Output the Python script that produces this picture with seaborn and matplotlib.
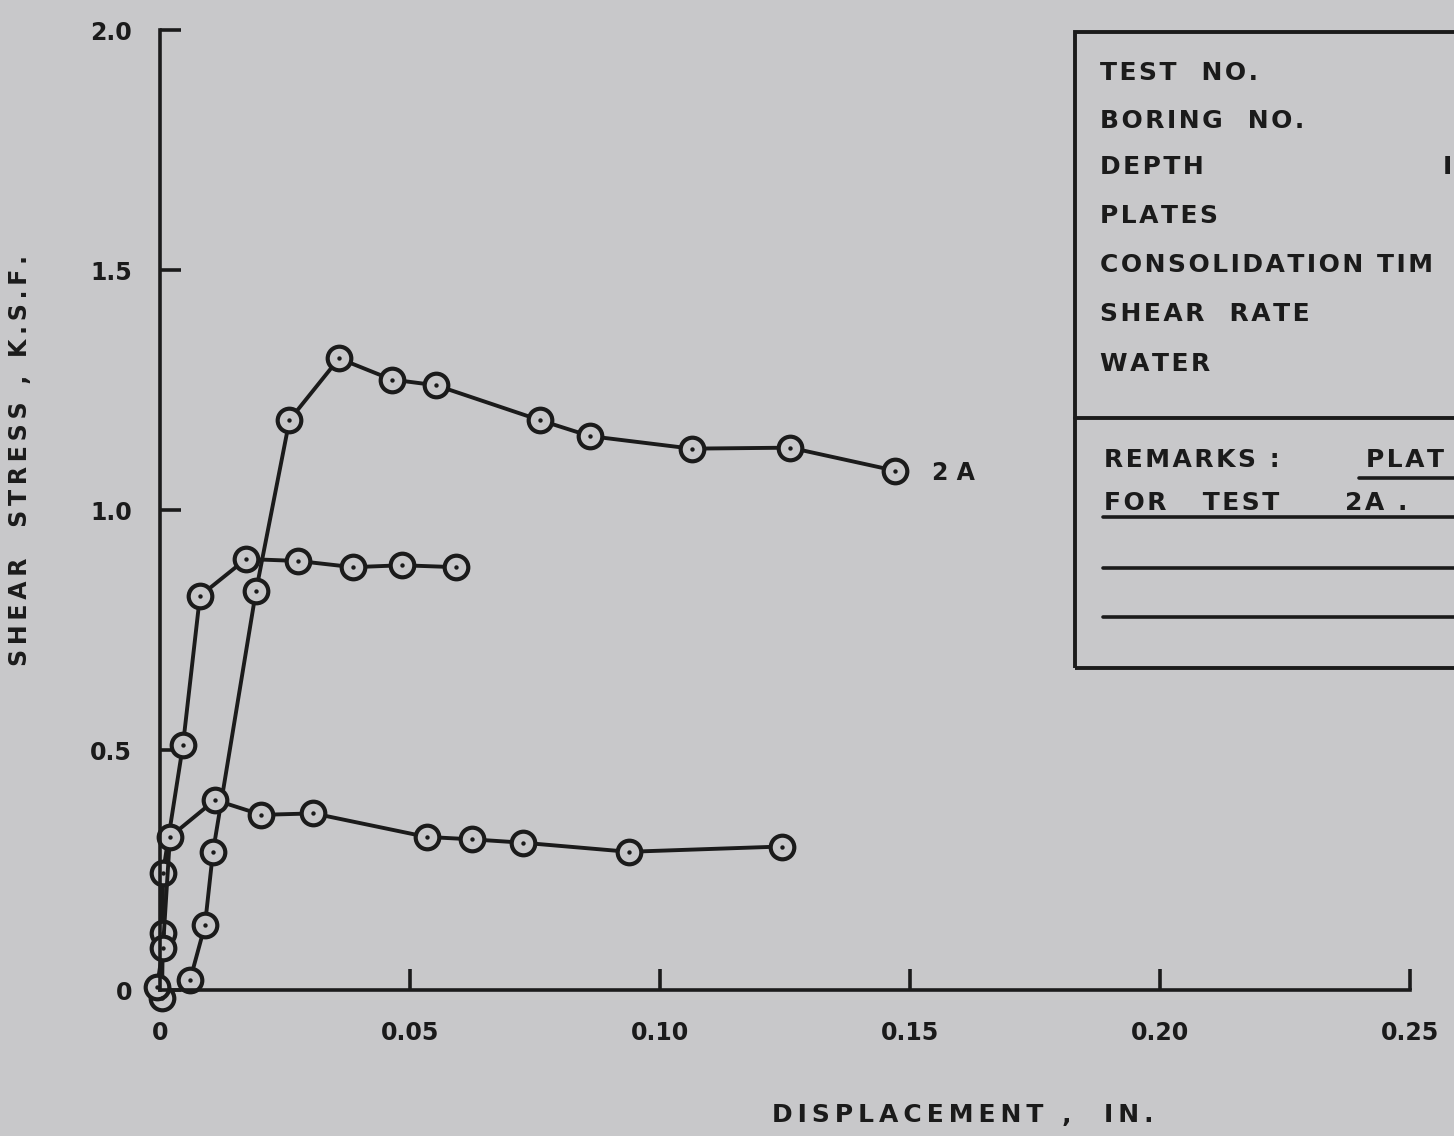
import seaborn as sns
import matplotlib.pyplot as plt
import matplotlib.patches as mpatches
import pandas as pd

# Direct shear test curves
test_2a_x = [0.006, 0.009, 0.0106, 0.0192, 0.0259, 0.0358, 0.0463, 0.0552, 0.0759, 0.086, 0.1063, 0.126, 0.147]
test_2a_y = [0.02, 0.135, 0.2875, 0.831, 1.1875, 1.316, 1.272, 1.26, 1.1875, 1.154, 1.128, 1.13, 1.082]

test_mid_x = [0.0004, 0.0006, 0.0006, 0.0046, 0.008, 0.0172, 0.0276, 0.0386, 0.0484, 0.0592]
test_mid_y = [-0.017, 0.119, 0.244, 0.51, 0.821, 0.898, 0.894, 0.881, 0.885, 0.881]

test_low_x = [-0.0006, 0.0006, 0.002, 0.011, 0.0203, 0.0307, 0.0533, 0.0623, 0.0725, 0.0937, 0.1243]
test_low_y = [0.006, 0.0875, 0.319, 0.396, 0.365, 0.368, 0.319, 0.314, 0.307, 0.288, 0.299]

x_ticks = [0, 0.05, 0.10, 0.15, 0.20, 0.25]
x_tick_labels = ['0', '0.05', '0.10', '0.15', '0.20', '0.25']
y_ticks = [0, 0.5, 1.0, 1.5, 2.0]
y_tick_labels = ['0', '0.5', '1.0', '1.5', '2.0']

info_rows = ['TEST  NO.', 'BORING  NO.', 'DEPTH', 'PLATES', 'CONSOLIDATION TIM', 'SHEAR  RATE', 'WATER']

bg = '#c8c8ca'
ink = '#1b1b1b'


def spaced(s, gap='\u2009'):
    # hand lettering is wide, open up the letters a little
    return gap.join(s)


df = pd.concat([
    pd.DataFrame({'disp': test_2a_x, 'stress': test_2a_y, 'test': '2A'}),
    pd.DataFrame({'disp': test_mid_x, 'stress': test_mid_y, 'test': 'mid'}),
    pd.DataFrame({'disp': test_low_x, 'stress': test_low_y, 'test': 'low'}),
], ignore_index=True)

sns.set_theme(style='white')
plt.rcParams['font.family'] = ['DejaVu Sans']
plt.rcParams['font.weight'] = 'bold'

fig = plt.figure(figsize=(14.54, 11.36), dpi=100, facecolor=bg)
ax = fig.add_axes([0.110, 0.1285, 0.860, 0.845])
ax.set_facecolor(bg)

sns.lineplot(data=df, x='disp', y='stress', hue='test', units='test', estimator=None,
             sort=False, palette=[ink] * 3, legend=False, ax=ax,
             lw=2.8, marker='o', markersize=17, markerfacecolor=bg,
             markeredgecolor=ink, markeredgewidth=3.0, clip_on=False)
sns.scatterplot(data=df, x='disp', y='stress', color=ink, s=10, linewidth=0,
                ax=ax, zorder=5, clip_on=False, legend=False)

ax.text(0.1543, 1.077, '2 A', fontsize=17, fontweight='bold', color=ink, va='center', ha='left')

ax.set_xlim(0, 0.25)
ax.set_ylim(0, 2.0)
ax.set_xticks(x_ticks)
ax.set_xticklabels(x_tick_labels)
ax.set_yticks(y_ticks)
ax.set_yticklabels(y_tick_labels)
ax.tick_params(axis='both', direction='in', length=15, width=2.6, color=ink,
               labelsize=17, labelcolor=ink, bottom=True, left=True)
ax.tick_params(axis='x', pad=22)
ax.tick_params(axis='y', pad=20)

for side in ['top', 'right']:
    ax.spines[side].set_visible(False)
for side in ['left', 'bottom']:
    ax.spines[side].set_color(ink)
    ax.spines[side].set_linewidth(2.6)

ax.set_xlabel(spaced('DISPLACEMENT ,  IN.'), fontsize=18, fontweight='bold', color=ink)
ax.xaxis.set_label_coords(0.642, -0.118)
ax.set_ylabel(spaced('SHEAR  STRESS , K.S.F.'), fontsize=17, fontweight='bold', color=ink)
ax.yaxis.set_label_coords(-0.102, 0.552)

# info box on the right, cut off by the page edge
fig.patches.append(mpatches.Rectangle((0.7393, 0.412), 0.35, 0.5598, transform=fig.transFigure,
                                      fill=False, edgecolor=ink, lw=2.8))
fig.lines.append(plt.Line2D([0.7393, 1.0], [0.632, 0.632], transform=fig.transFigure, color=ink, lw=2.8))

hair = '\u200a'
row_y = [0.9357, 0.8935, 0.853, 0.810, 0.7667, 0.7236, 0.6796]
for label, yy in zip(info_rows, row_y):
    fig.text(0.7565, yy, spaced(label, hair), fontsize=18, fontweight='bold', color=ink, va='center')
fig.text(0.9925, 0.853, 'I', fontsize=18, fontweight='bold', color=ink, va='center')

fig.text(0.7590, 0.595, spaced('REMARKS :', hair), fontsize=18, fontweight='bold', color=ink, va='center')
fig.text(0.9395, 0.595, spaced('PLAT', hair), fontsize=18, fontweight='bold', color=ink, va='center')
fig.text(0.7590, 0.557, spaced('FOR   TEST', hair), fontsize=18, fontweight='bold', color=ink, va='center')
fig.text(0.9250, 0.557, spaced('2A .', hair), fontsize=18, fontweight='bold', color=ink, va='center')
for x0, yy in [(0.935, 0.579), (0.7586, 0.545), (0.7586, 0.500), (0.7586, 0.4569)]:
    fig.lines.append(plt.Line2D([x0, 1.0], [yy, yy], transform=fig.transFigure, color=ink, lw=2.6))

fig.savefig('out.png', dpi=100, facecolor=bg)
